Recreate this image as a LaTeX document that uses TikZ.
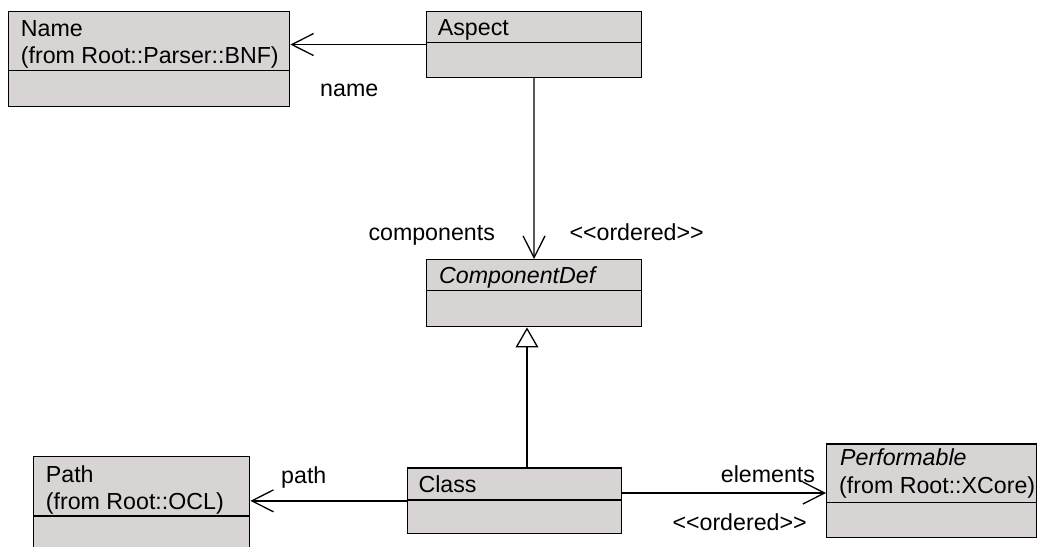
\documentclass[tikz,border=0pt]{standalone}
\usepackage{fontspec}
\setmainfont{Liberation Sans}
\usetikzlibrary{arrows.meta}
\definecolor{boxfill}{RGB}{217,212,212}
\tikzset{
  cls/.style={draw=black, fill=boxfill, line width=1.4pt, rectangle, inner sep=0pt, anchor=north west},
  divline/.style={line width=1.4pt},
  txt/.style={anchor=base west, inner sep=0pt, font=\fontsize{23.2}{27}\selectfont},
  assoc/.style={line width=1.3pt, -{Straight Barb[length=21.7pt,width=22pt,line width=1.3pt]}},
  gen/.style={line width=1.3pt, -{Triangle[open,fill=white,length=20pt,width=22.7pt,line width=1.3pt]}},
}
\begin{document}
\begin{tikzpicture}[x=1pt,y=-1pt]
\useasboundingbox (0,0) rectangle (1038,546);
\clip (0,0) rectangle (1038,546);
% boxes
\node[cls, minimum width=281pt, minimum height=95pt] (name) at (8,11) {};
\draw[divline] (8,70.7) -- (289,70.7);
\node[txt] (nameT) at (20.7,36.7) {Name};
\node[txt] (nameF) at (20.7,63.3) {(from Root::Parser::BNF)};

\node[cls, minimum width=215pt, minimum height=65.7pt] (aspect) at (425.7,11) {};
\draw[divline] (425.7,42.7) -- (640.7,42.7);
\node[txt] (aspectT) at (437.7,35) {Aspect};

\node[cls, minimum width=215.3pt, minimum height=67pt] (compdef) at (425.7,259) {};
\draw[divline] (425.7,290.7) -- (641,290.7);
\node[txt, font=\fontsize{23.2}{27}\selectfont\itshape] (compdefT) at (439,283.3) {ComponentDef};

\node[cls, minimum width=216pt, minimum height=120pt] (path) at (33,455.7) {};
\draw[divline] (33,516) -- (249,516);
\node[txt] (pathT) at (45.7,482.3) {Path};
\node[txt] (pathF) at (45.7,509.3) {(from Root::OCL)};

\node[cls, minimum width=214.3pt, minimum height=65.7pt] (class) at (406.7,467.3) {};
\draw[divline] (406.7,500) -- (621,500);
\node[txt] (classT) at (418.3,492.7) {Class};

\node[cls, minimum width=210pt, minimum height=93.4pt] (perf) at (826,443.3) {};
\draw[divline] (826,502.3) -- (1036,502.3);
\node[txt, font=\fontsize{23.2}{27}\selectfont\itshape] (perfT) at (840,465) {Performable};
\node[txt] (perfF) at (839,493.3) {(from Root::XCore)};

% connectors
\draw[assoc] (aspect.west) -- (aspect.west -| name.east);
\draw[assoc] (aspect.south) -- (compdef.north);
\coordinate (gx) at (527,0);
\draw[gen] (class.north -| gx) -- (compdef.south -| gx);
\draw[assoc] (class.west) -- (class.west -| path.east);
\coordinate (ry) at (0,493);
\draw[assoc] (class.east |- ry) -- (perf.west |- ry);

% labels
\node[txt] (lname) at (320,96) {name};
\node[txt] (lcomp) at (368.3,240.7) {components};
\node[txt] (lord1) at (569.3,240.7) {<{}<ordered>{}>};
\node[txt] (lpath) at (281,483.3) {path};
\node[txt] (lelem) at (720.7,482.7) {elements};
\node[txt] (lord2) at (672.3,530) {<{}<ordered>{}>};
\end{tikzpicture}
\end{document}
